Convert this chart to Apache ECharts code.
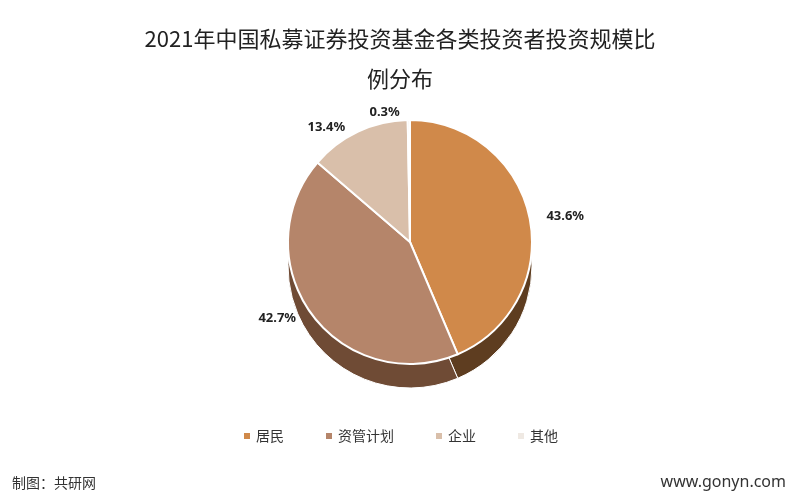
<!DOCTYPE html>
<html><head><meta charset="utf-8">
<script src="https://cdn.jsdelivr.net/npm/echarts@6/dist/echarts.min.js"></script>
<style>html,body{margin:0;background:#fff}#c{width:800px;height:500px}</style>
</head><body><div id="c"></div>
<script>
const categories=['居民','资管计划','企业','其他'];
const values=[43.6,42.7,13.4,0.3];
const colors=['#D0894A','#B5856A','#D9BFAA','#EFE9E3'];
const sideColors=['#5E3D20','#6F4B35','#8A7562','#9A9088'];
const chart=echarts.init(document.getElementById('c'));
const data=categories.map((n,i)=>({name:n,value:values[i],itemStyle:{color:colors[i]}}));
const side=categories.map((n,i)=>({name:n+' ',value:values[i],itemStyle:{color:sideColors[i]}}));
chart.setOption({
 title:{text:'2021年中国私募证券投资基金各类投资者投资规模比\n例分布',left:'center',top:14,
  textStyle:{fontFamily:'Noto Sans CJK SC',fontSize:22,fontWeight:'normal',color:'#222',lineHeight:40}},
 legend:{bottom:52,itemWidth:8,itemHeight:8,icon:'rect',itemGap:40,
  data:categories.map((n,i)=>({name:n,itemStyle:{color:colors[i]}})),
  textStyle:{fontFamily:'Noto Sans CJK SC',fontSize:14,color:'#333'}},
 graphic:[
  {type:'text',left:12,bottom:10,style:{text:'制图：共研网',font:'14px "Noto Sans CJK SC"',fill:'#333'}},
  {type:'text',right:14,bottom:10,style:{text:'www.gonyn.com',font:'16px "Noto Sans"',fill:'#333'}}
 ],
 series:[
  {type:'pie',silent:true,center:[410,266],radius:[0,122],startAngle:90,data:side,
   label:{show:false},labelLine:{show:false},legendHoverLink:false,
   itemStyle:{borderColor:'#fff',borderWidth:1}},
  {type:'pie',center:[410,242],radius:[0,122],startAngle:90,data:data,
   itemStyle:{borderColor:'#fff',borderWidth:2},
   label:{formatter:'{c}%',color:'#222',fontWeight:'bold',fontSize:13,fontFamily:'Noto Sans'},
   labelLine:{show:false,length:8,length2:4}}
 ]
});
</script></body></html>
